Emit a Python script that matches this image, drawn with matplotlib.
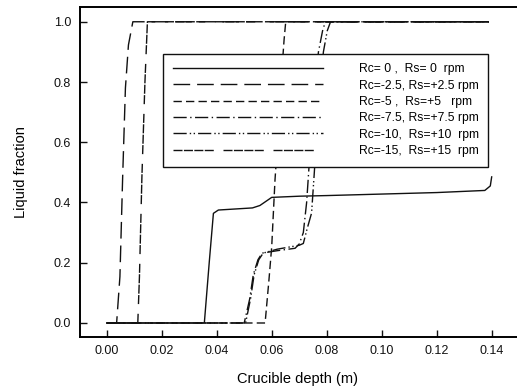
import matplotlib
matplotlib.use("Agg")
import matplotlib.pyplot as plt

plt.rcParams['font.family'] = ['Liberation Sans', 'DejaVu Sans']

labels = [
    "Rc= 0 ,  Rs= 0  rpm",
    "Rc=-2.5, Rs=+2.5 rpm",
    "Rc=-5 ,  Rs=+5   rpm",
    "Rc=-7.5, Rs=+7.5 rpm",
    "Rc=-10,  Rs=+10  rpm",
    "Rc=-15,  Rs=+15  rpm",
]

x_rc0 = [0, 0.0355, 0.0373, 0.0388, 0.0406, 0.0530, 0.0557, 0.0600, 0.0703, 0.080, 0.100, 0.120, 0.1375, 0.1395, 0.1400]
y_rc0 = [0, 0, 0.203, 0.364, 0.375, 0.382, 0.390, 0.417, 0.421, 0.423, 0.428, 0.433, 0.440, 0.455, 0.485]

x_rc25 = [0, 0.0036, 0.0048, 0.0058, 0.0068, 0.0079, 0.0095, 0.139]
y_rc25 = [0, 0, 0.154, 0.486, 0.78, 0.923, 1.0, 1.0]

x_rc5 = [0, 0.0576, 0.0590, 0.0600, 0.0606, 0.0612, 0.0625, 0.0638, 0.0645, 0.0651, 0.139]
y_rc5 = [0, 0, 0.143, 0.253, 0.364, 0.475, 0.65, 0.85, 0.94, 1.0, 1.0]

x_rc75 = [0, 0.0500, 0.0520, 0.0533, 0.0550, 0.0565, 0.0620, 0.0685, 0.0700, 0.0715, 0.0727, 0.0738, 0.0752, 0.0770, 0.0785, 0.0795, 0.139]
y_rc75 = [0, 0, 0.08, 0.16, 0.21, 0.232, 0.240, 0.248, 0.262, 0.30, 0.40, 0.55, 0.75, 0.90, 0.97, 1.0, 1.0]

x_rc10 = [0, 0.0505, 0.0523, 0.0536, 0.0553, 0.0569, 0.0620, 0.0700, 0.0715, 0.0728, 0.0745, 0.0755, 0.0770, 0.0788, 0.0802, 0.0814, 0.139]
y_rc10 = [0, 0, 0.08, 0.16, 0.21, 0.232, 0.245, 0.258, 0.264, 0.31, 0.365, 0.50, 0.72, 0.90, 0.97, 1.0, 1.0]

x_rc15 = [0, 0.0113, 0.0119, 0.0128, 0.0139, 0.0148, 0.139]
y_rc15 = [0, 0, 0.154, 0.486, 0.80, 1.0, 1.0]

xticks = [0.00, 0.02, 0.04, 0.06, 0.08, 0.10, 0.12, 0.14]
xticklabels = ["0.00", "0.02", "0.04", "0.06", "0.08", "0.10", "0.12", "0.14"]
yticks = [0.0, 0.2, 0.4, 0.6, 0.8, 1.0]
yticklabels = ["0.0", "0.2", "0.4", "0.6", "0.8", "1.0"]

fig = plt.figure(figsize=(5.17, 3.92), dpi=100)
W, H = 517, 392
left_px, right_px, top_px, bot_px = 79.5, 520, 7, 337
ax = fig.add_axes([left_px / W, 1 - bot_px / H, (right_px - left_px) / W, (bot_px - top_px) / H])

lw = 1.0
c = '#111111'
series = [
    (x_rc0, y_rc0, '-'),
    (x_rc25, y_rc25, (0, (12, 5))),
    (x_rc5, y_rc5, (0, (6, 3))),
    (x_rc75, y_rc75, (0, (9.5, 2.5, 1, 2.5))),
    (x_rc10, y_rc10, (0, (9.5, 2.2, 1, 1.8, 1, 2.2))),
    (x_rc15, y_rc15, (0, (6.5, 1, 6.5, 1, 6.5, 1, 6.5, 7))),
]
for (xs, ys, ls), lab in zip(series, labels):
    ax.plot(xs, ys, color=c, lw=lw, linestyle=ls, label=lab)

ax.set_xlim(-0.0099, 0.1503)
ax.set_ylim(-0.0465, 1.049)
ax.set_xticks(xticks)
ax.set_xticklabels(xticklabels)
ax.set_yticks(yticks)
ax.set_yticklabels(yticklabels)
ax.tick_params(direction='in', length=5, width=1.0, labelsize=9, colors='#111111', pad=6)
for s in ['left', 'bottom', 'top']:
    ax.spines[s].set_linewidth(1.4)
ax.spines['right'].set_visible(False)

ax.set_xlabel("Crucible depth (m)", fontsize=10.5)
ax.set_ylabel("Liquid fraction", fontsize=10.5)
ax.xaxis.set_label_coords(0.496, -0.105)
ax.yaxis.set_label_coords(-0.117, 0.5)

leg = ax.legend(loc='upper left', bbox_to_anchor=((163 - left_px) / (right_px - left_px), (bot_px - 53.5) / (bot_px - top_px)),
                borderaxespad=0, fontsize=8.7, handlelength=12.4, handletextpad=3.0,
                borderpad=0.8, labelspacing=0.36, fancybox=False, framealpha=1, edgecolor='#111111')
leg.get_frame().set_linewidth(1.0)

fig.savefig("out.png", dpi=100, facecolor='white')
